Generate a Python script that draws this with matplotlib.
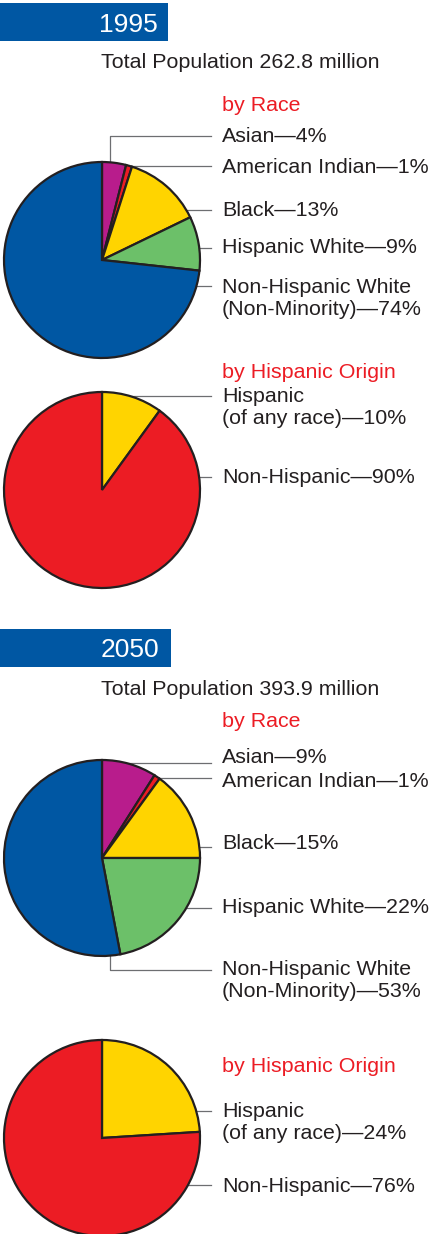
import matplotlib.pyplot as plt
from matplotlib.patches import Rectangle

# values
years = ["1995", "2050"]
totals = [262.8, 393.9]
race_labels = ["Asian", "American Indian", "Black", "Hispanic White",
               "Non-Hispanic White\n(Non-Minority)"]
race_1995 = [4, 1, 13, 9, 74]
race_2050 = [9, 1, 15, 22, 53]
origin_labels = ["Hispanic\n(of any race)", "Non-Hispanic"]
origin_1995 = [10, 90]
origin_2050 = [24, 76]

BLUE = "#0057a3"
RED = "#ec1c24"
INK = "#231f20"
GRAY = "#6d6e71"
race_colors = ["#b81c8c", RED, "#ffd400", "#6cc069", BLUE]
origin_colors = ["#ffd400", RED]

plt.rcParams['font.family'] = ['Liberation Sans', 'DejaVu Sans']
FS = 15.4
LX = 222   # left edge of label text
LE = 211   # right end of leader lines
CX = 102   # pie centre x
R = 98


def draw_pie(ax, values, colors, cy):
    # y axis is flipped (pixel coords), so -90 is the top and counterclock runs clockwise on screen
    ax.pie(values, colors=colors, center=(CX, cy), radius=R,
           startangle=-90, counterclock=True,
           wedgeprops=dict(edgecolor=INK, linewidth=1.6, zorder=3))


def leader(ax, y, cy, elbow_x=None):
    if elbow_x is None:
        ax.plot([CX, LE], [y, y], color=GRAY, lw=0.9, zorder=1)
    else:
        ax.plot([elbow_x, elbow_x, LE], [cy, y, y], color=GRAY, lw=0.9, zorder=1)


def labels(ax, names, values, baselines):
    # baseline given is that of the last line of the label
    for name, v, yb in zip(names, values, baselines):
        ax.text(LX, yb, f"{name}\u2014{v}%", fontsize=FS, color=INK,
                va='baseline', ha='left', linespacing=1.17)


fig = plt.figure(figsize=(4.29, 12.34), dpi=100)
ax = fig.add_axes([0, 0, 1, 1])

# ---- 1995 ----
ax.add_patch(Rectangle((0, 3), 168, 38, color=BLUE, lw=0))
ax.text(158, 32, years[0], fontsize=19, color="white", ha='right', va='baseline')
ax.text(101, 68, f"Total Population {totals[0]} million", fontsize=FS, color=INK, va='baseline')
ax.text(LX, 111, "by Race", fontsize=FS, color=RED, va='baseline')

draw_pie(ax, race_1995, race_colors, 260)
leader(ax, 136, 260, elbow_x=110)
for y in [166, 210, 248, 286]:
    leader(ax, y, 260)
labels(ax, race_labels, race_1995, [142, 173, 216, 253, 315])

ax.text(LX, 378, "by Hispanic Origin", fontsize=FS, color=RED, va='baseline')
draw_pie(ax, origin_1995, origin_colors, 490)
for y in [396, 477]:
    leader(ax, y, 490)
labels(ax, origin_labels, origin_1995, [424, 483])

# ---- 2050 ----
ax.add_patch(Rectangle((0, 629), 171, 38, color=BLUE, lw=0))
ax.text(159, 657, years[1], fontsize=19, color="white", ha='right', va='baseline')
ax.text(101, 695, f"Total Population {totals[1]} million", fontsize=FS, color=INK, va='baseline')
ax.text(LX, 727, "by Race", fontsize=FS, color=RED, va='baseline')

draw_pie(ax, race_2050, race_colors, 858)
for y in [763, 778, 847, 908]:
    leader(ax, y, 858)
leader(ax, 970, 858, elbow_x=110)
labels(ax, race_labels, race_2050, [763, 787, 849, 913, 997])

ax.text(LX, 1072, "by Hispanic Origin", fontsize=FS, color=RED, va='baseline')
draw_pie(ax, origin_2050, origin_colors, 1138)
for y in [1111, 1185]:
    leader(ax, y, 1138)
labels(ax, origin_labels, origin_2050, [1139, 1192])

ax.set_xlim(0, 429)
ax.set_ylim(1234, 0)
ax.set_aspect('equal')
ax.axis('off')

fig.savefig("out.png", dpi=100)
